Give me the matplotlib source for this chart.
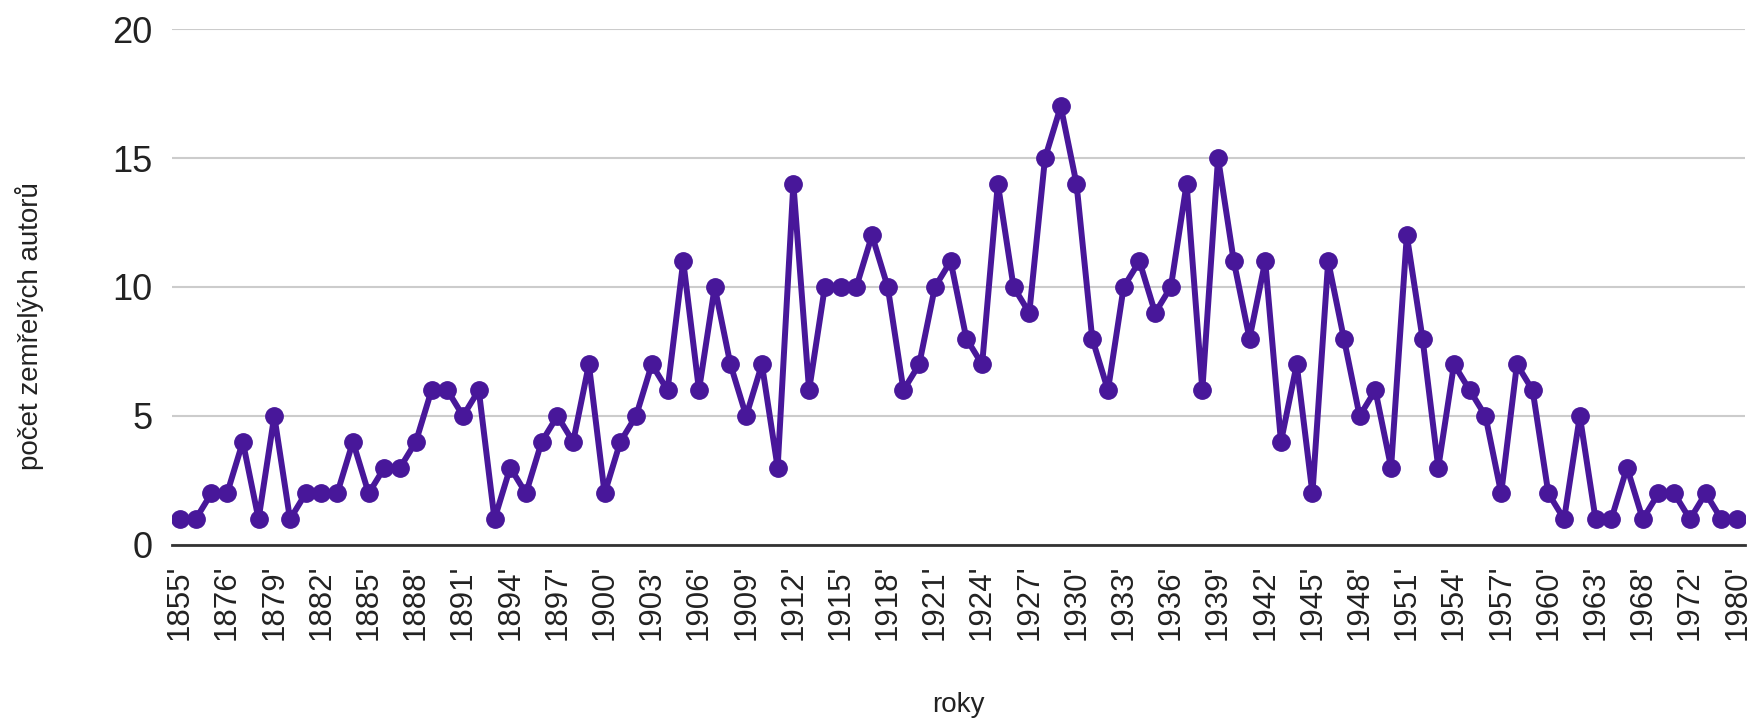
import matplotlib
matplotlib.use("Agg")
import matplotlib.pyplot as plt

plt.rcParams['font.family'] = ['Liberation Sans', 'DejaVu Sans']

# roky (kategorie na ose x), popisek jen u kazdeho tretiho
years = ['1855', '1866', '1872'] + [str(y) for y in range(1876, 1964)] + \
        ['1964', '1966', '1968', '1969', '1970', '1972', '1975', '1978', '1980']
labels = [y + "'" for y in years]

# pocet zemrelych autoru
counts = [1, 1, 2, 2, 4, 1, 5, 1, 2, 2,
          2, 4, 2, 3, 3, 4, 6, 6, 5, 6,
          1, 3, 2, 4, 5, 4, 7, 2, 4, 5,
          7, 6, 11, 6, 10, 7, 5, 7, 3, 14,
          6, 10, 10, 10, 12, 10, 6, 7, 10, 11,
          8, 7, 14, 10, 9, 15, 17, 14, 8, 6,
          10, 11, 9, 10, 14, 6, 15, 11, 8, 11,
          4, 7, 2, 11, 8, 5, 6, 3, 12, 8,
          3, 7, 6, 5, 2, 7, 6, 2, 1, 5,
          1, 1, 3, 1, 2, 2, 1, 2, 1, 1]

y_ticks = [0, 5, 10, 15, 20]

purple = '#48179a'

fig = plt.figure(figsize=(17.52, 7.22), dpi=100)
ax = fig.add_axes([0.0982, 0.2452, 0.8978, 0.7146])

x = list(range(len(counts)))
ax.plot(x, counts, color=purple, lw=4.3, marker='o', ms=12.5,
        markeredgecolor=purple, zorder=3, solid_joinstyle='round')

ax.set_ylim(0, 20)
ax.set_xlim(-0.5, len(counts) - 0.5)
ax.set_yticks(y_ticks)
ax.set_yticklabels([str(v) for v in y_ticks])
ax.yaxis.grid(True, color='#cccccc', lw=1.5)
ax.set_axisbelow(True)

ax.set_xticks(x[::3])
ax.set_xticklabels(labels[::3], rotation=90, va='top', ha='center')

for s in ['top', 'right', 'left']:
    ax.spines[s].set_visible(False)
ax.spines['bottom'].set_color('#333333')
ax.spines['bottom'].set_linewidth(2)
ax.spines['bottom'].set_zorder(2)

ax.tick_params(axis='y', length=0, pad=14, labelsize=26, labelcolor='#222222')
ax.tick_params(axis='x', length=0, pad=14, labelsize=22.5, labelcolor='#222222')

fig.text(30 / 1752, 1 - 326 / 722, 'počet zemřelých autorů', rotation=90,
         ha='center', va='center', fontsize=20, color='#222222')
fig.text(958 / 1752, 1 - 705 / 722, 'roky', ha='center', va='center',
         fontsize=20, color='#222222')

fig.savefig('out.png', dpi=100, facecolor='white')
